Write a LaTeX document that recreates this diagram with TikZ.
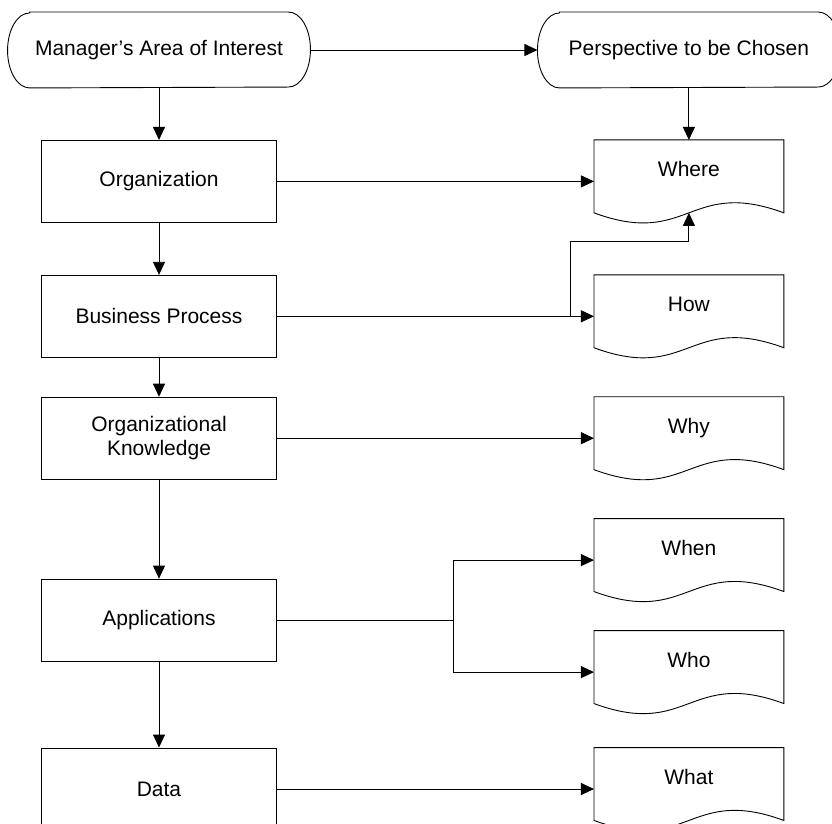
\documentclass[tikz,border=0pt]{standalone}
\usepackage{fontspec}
\setmainfont{Liberation Sans}
\usetikzlibrary{arrows.meta,positioning}

\begin{document}
\begin{tikzpicture}[x=1pt, y=1pt, node distance=52pt, line width=0.9pt, every node/.style={font=\fontsize{21}{24}\selectfont, inner sep=0pt}, term/.style={minimum width=302pt, minimum height=75pt}, proc/.style={draw, minimum width=235pt, minimum height=82pt, align=center}, docbox/.style={minimum width=189pt, minimum height=82pt, text height=14pt, text depth=23pt}, >={Triangle[length=13pt,width=12pt]}]
\useasboundingbox (0,0) rectangle (832,823);
\node[term] (mgr) at (159,773) {Manager’s Area of Interest};
\node[term,right=227pt of mgr] (persp) {Perspective to be Chosen};
\node[proc,below=of mgr] (org) {Organization};
\node[proc,below=of org] (bp) {Business Process};
\node[proc,below=39pt of bp] (ok) {Organizational\\Knowledge};
\node[proc,below=99pt of ok] (app) {Applications};
\node[proc,below=86pt of app] (data) {Data};
% terminator outlines
\foreach \t in {mgr,persp}
  \draw ([xshift=22pt]\t.north west) -- ([xshift=-22pt]\t.north east) arc[start angle=90,end angle=-90,x radius=22pt,y radius=37.5pt] -- ([xshift=22pt]\t.south west) arc[start angle=270,end angle=90,x radius=22pt,y radius=37.5pt] -- cycle;
% document shapes
\node[docbox,below=of persp] (where) {Where};
\node[docbox,right=317pt of bp] (how) {How};
\node[docbox,right=317pt of ok] (why) {Why};
\node[docbox,right=317pt of app,yshift=60pt] (when) {When};
\node[docbox,right=317pt of app,yshift=-52pt] (who) {Who};
\node[docbox,right=317pt of data] (what) {What};
\foreach \d in {where,how,why,when,who,what}
  \draw (\d.north west) -- (\d.north east) -- ([yshift=10pt]\d.south east) .. controls ([yshift=45pt]\d.south) and ([yshift=-25pt]\d.south) .. ([yshift=10pt]\d.south west) -- cycle;
% connectors
\draw[->] (mgr) -- (persp);
\draw[->] (mgr) -- (org);\draw[->] (org) -- (bp);\draw[->] (bp) -- (ok);\draw[->] (ok) -- (app);\draw[->] (app) -- (data);
\draw[->] (persp) -- (where);
\draw[->] (org.east) -- (org.east -| where.west);
\draw[->] (bp.east) -- (bp.east -| how.west);
\draw[->] (ok.east) -- (ok.east -| why.west);
\draw[->] (data.east) -- (data.east -| what.west);
\coordinate (bpup) at ([xshift=-24pt,yshift=33pt]how.north west);
\draw[->] (bp.east) -| (bpup) -| ([yshift=10pt]where.south);
\coordinate (fork) at ([xshift=176pt]app.east);
\draw (app) -- (fork);
\draw[->] (fork) |- (when);
\draw[->] (fork) |- (who);
\end{tikzpicture}
\end{document}
